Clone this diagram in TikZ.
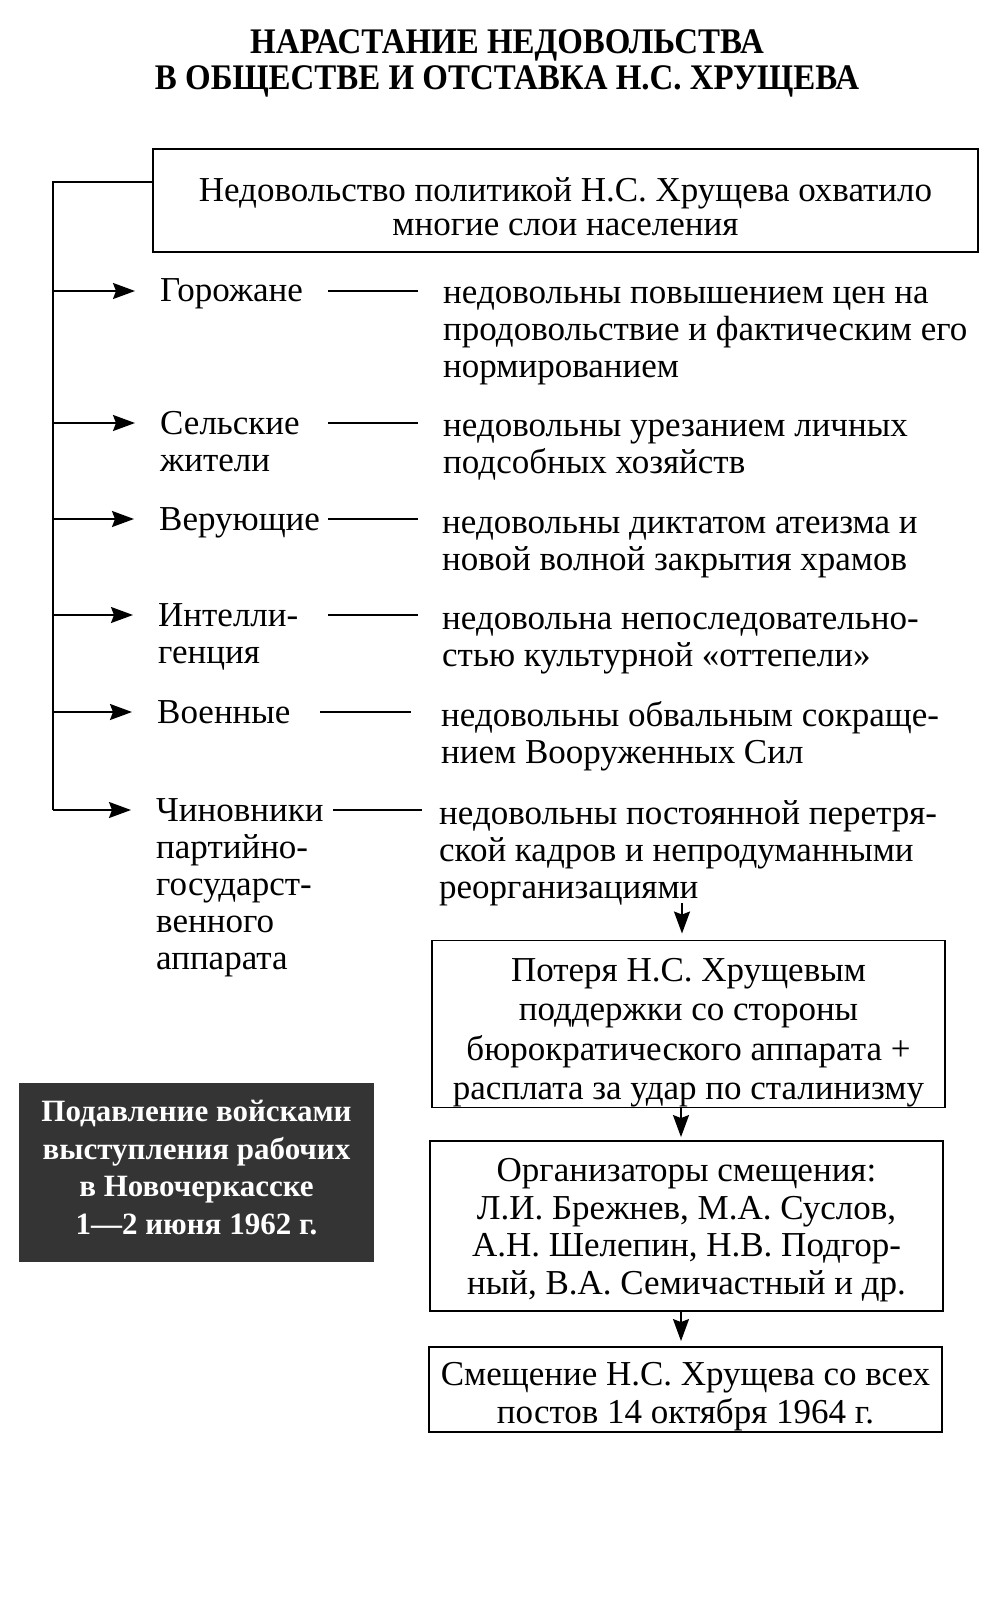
\documentclass[tikz,border=0pt]{standalone}
\usepackage{fontspec}
\setmainfont{Liberation Serif}
\newfontfamily\titlefont[FakeStretch=0.915]{Liberation Serif}
\usetikzlibrary{arrows.meta,calc}
\newcommand{\tp}[1]{\rule{0pt}{#1pt}}
\begin{document}
\begin{tikzpicture}[x=1pt,y=-1pt,
  txt/.style={font=\fontsize{35}{37}\selectfont, inner sep=0pt, align=left, anchor=base west},
  box/.style={draw, line width=1.9pt, inner sep=0pt, align=center, font=\fontsize{35}{37.5}\selectfont},
  arr/.style={line width=1.8pt, -{Stealth[length=22pt,width=16pt,inset=3pt]}},
  ln/.style={line width=1.7pt}]
\useasboundingbox (0,0) rectangle (993,1621);
\fill[white] (0,0) rectangle (993,1621);

\node[font={\titlefont\bfseries\fontsize{36}{36}\selectfont}, align=center, anchor=base, inner sep=0pt] (title) at (507,90)
  {НАРАСТАНИЕ НЕДОВОЛЬСТВА\\В ОБЩЕСТВЕ И ОТСТАВКА Н.С. ХРУЩЕВА};

\node[box, minimum width=825pt, minimum height=103pt, font=\fontsize{35}{34}\selectfont] (top) at (565.5,200.5)
  {\tp{37}Недовольство политикой Н.С. Хрущева охватило\\многие слои населения};

% spine
\coordinate (j) at (53,182);
\coordinate (s1) at (53,291);
\coordinate (s2) at (53,423);
\coordinate (s3) at (53,519);
\coordinate (s4) at (53,615);
\coordinate (s5) at (53,712);
\coordinate (s6) at (53,810);

% labels (base = baseline of last line)
\node[txt] (l1) at (160,301) {Горожане};
\node[txt] (l2) at (160,471) {Сельские\\жители};
\node[txt] (l3) at (159,530) {Верующие};
\node[txt] (l4) at (158,663) {Интелли-\\генция};
\node[txt] (l5) at (157,723) {Военные};
\node[txt] (l6) at (156,969) {Чиновники\\партийно-\\государст-\\венного\\аппарата};

% descriptions
\node[txt] (d1) at (443,377) {недовольны повышением цен на\\продовольствие и фактическим его\\нормированием};
\node[txt] (d2) at (443,473) {недовольны урезанием личных\\подсобных хозяйств};
\node[txt] (d3) at (442,570) {недовольны диктатом атеизма и\\новой волной закрытия храмов};
\node[txt] (d4) at (442,666) {недовольна непоследовательно-\\стью культурной «оттепели»};
\node[txt] (d5) at (441,763) {недовольны обвальным сокраще-\\нием Вооруженных Сил};
\node[txt] (d6) at (439,898) {недовольны постоянной перетря-\\ской кадров и непродуманными\\реорганизациями};

\draw[ln] (top.west |- j) -- (j) -- (s6);
\foreach \i in {1,...,6} {
  \draw[arr, shorten >=25pt] (s\i) -- (s\i -| l\i.west);
}
\draw[ln] ($(d1.west |- s1)+(-115,0)$) -- ($(d1.west |- s1)+(-25,0)$);
\draw[ln] ($(d2.west |- s2)+(-115,0)$) -- ($(d2.west |- s2)+(-25,0)$);
\draw[ln] ($(d3.west |- s3)+(-114,0)$) -- ($(d3.west |- s3)+(-24,0)$);
\draw[ln] ($(d4.west |- s4)+(-114,0)$) -- ($(d4.west |- s4)+(-24,0)$);
\draw[ln] ($(d5.west |- s5)+(-121,0)$) -- ($(d5.west |- s5)+(-30,0)$);
\draw[ln] ($(d6.west |- s6)+(-106,0)$) -- ($(d6.west |- s6)+(-17,0)$);

% chain boxes
\node[box, minimum width=513pt, minimum height=166pt, font=\fontsize{35}{39.5}\selectfont] (b2) at (688.5,1024)
  {\tp{41}Потеря Н.С. Хрущевым\\поддержки со стороны\\бюрократического аппарата +\\расплата за удар по сталинизму};
\node[box, minimum width=513pt, minimum height=170pt] (b3) at (686.5,1226)
  {\tp{31}Организаторы смещения:\\Л.И. Брежнев, М.А. Суслов,\\А.Н. Шелепин, Н.В. Подгор-\\ный, В.А. Семичастный и др.};
\node[box, minimum width=513pt, minimum height=85pt] (b4) at (685.5,1389.5)
  {\tp{37}Смещение Н.С. Хрущева со всех\\постов 14 октября 1964 г.};

\coordinate (ax) at (681,0);
\coordinate (a0) at (682,903);
\draw[arr, shorten >=6pt] (a0) -- (a0 |- b2.north);
\draw[arr, shorten >=3pt] (b2.south -| ax) -- (b3.north -| ax);
\draw[arr, shorten >=5pt] (b3.south -| ax) -- (b4.north -| ax);

\node[fill={rgb,255:red,52;green,52;blue,52}, text=white, inner sep=0pt, align=center,
  minimum width=355pt, minimum height=179pt,
  font={\bfseries\fontsize{31}{37.5}\selectfont}] (dark) at (196.5,1172.5)
  {Подавление войсками\\выступления рабочих\\в Новочеркасске\\1—2 июня 1962 г.\rule[-10pt]{0pt}{10pt}};
\end{tikzpicture}
\end{document}
